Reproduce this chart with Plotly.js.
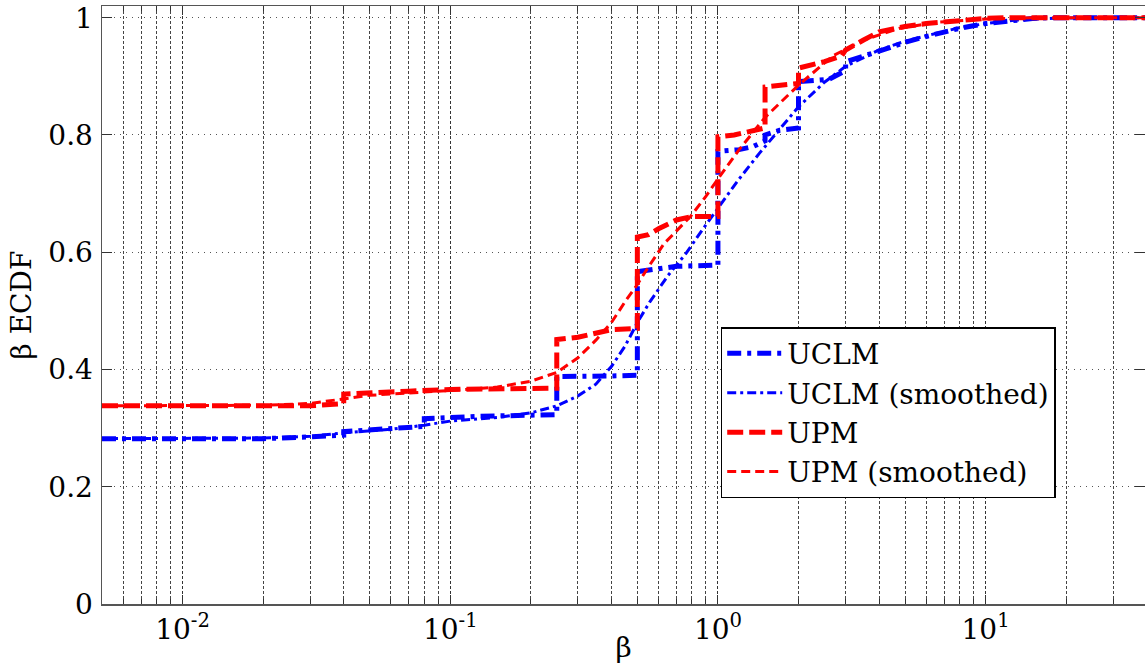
<!DOCTYPE html>
<html>
<head>
<meta charset="utf-8">
<script src="https://cdn.plot.ly/plotly-3.0.1.min.js"></script>
<style>html,body{margin:0;padding:0;background:#fff;overflow:hidden}</style>
</head>
<body>
<div id="chart" style="width:1145px;height:664px"></div>
<script>
// ---- data ----
const uclmBeta = [0.005, 0.02, 0.03, 0.04, 0.04, 0.06, 0.08, 0.08, 0.1, 0.125, 0.25, 0.25, 0.4, 0.5, 0.5, 0.6, 0.7, 1.0, 1.0, 1.2, 1.35, 1.5, 1.5, 1.7, 2.0, 2.0, 2.6, 3.0, 3.0, 4, 5, 6, 8, 10, 13, 16, 40];
const uclmEcdf = [0.282, 0.282, 0.285, 0.288, 0.294, 0.300, 0.303, 0.316, 0.318, 0.320, 0.323, 0.388, 0.389, 0.390, 0.567, 0.571, 0.576, 0.578, 0.772, 0.775, 0.780, 0.790, 0.800, 0.808, 0.812, 0.891, 0.895, 0.910, 0.925, 0.943, 0.958, 0.968, 0.982, 0.990, 0.996, 1.0, 1.0];

const uclmSmBeta = [0.005, 0.02, 0.03, 0.04, 0.06, 0.08, 0.1, 0.15, 0.2, 0.25, 0.3, 0.35, 0.4, 0.45, 0.5, 0.556, 0.65, 0.76, 0.88, 1.0, 1.2, 1.43, 1.7, 2.0, 2.5, 3.0, 4.0, 5.0, 6.5, 8, 10, 13, 18, 25, 40];
const uclmSmEcdf = [0.282, 0.283, 0.286, 0.292, 0.298, 0.305, 0.312, 0.318, 0.326, 0.338, 0.355, 0.375, 0.405, 0.440, 0.480, 0.515, 0.560, 0.598, 0.640, 0.675, 0.725, 0.769, 0.810, 0.848, 0.890, 0.917, 0.945, 0.960, 0.973, 0.983, 0.990, 0.996, 0.999, 1.0, 1.0];

const upmBeta = [0.005, 0.03, 0.04, 0.04, 0.07, 0.1, 0.25, 0.25, 0.3, 0.35, 0.4, 0.5, 0.5, 0.55, 0.6, 0.7, 0.8, 1.0, 1.0, 1.15, 1.3, 1.5, 1.5, 1.8, 2.0, 2.0, 2.5, 2.9, 3.0, 3.5, 4, 5, 6, 8, 10, 12, 40];
const upmEcdf = [0.338, 0.338, 0.342, 0.358, 0.363, 0.366, 0.368, 0.451, 0.455, 0.463, 0.468, 0.470, 0.626, 0.630, 0.640, 0.655, 0.661, 0.661, 0.797, 0.800, 0.805, 0.812, 0.882, 0.885, 0.888, 0.914, 0.925, 0.935, 0.945, 0.962, 0.976, 0.985, 0.990, 0.995, 0.999, 1.0, 1.0];

const upmSmBeta = [0.005, 0.02, 0.03, 0.04, 0.05, 0.07, 0.1, 0.15, 0.2, 0.25, 0.3, 0.35, 0.4, 0.455, 0.5, 0.55, 0.63, 0.79, 0.9, 1.0, 1.2, 1.5, 2.0, 2.69, 3.5, 4.77, 6.5, 10, 15, 40];
const upmSmEcdf = [0.338, 0.339, 0.342, 0.350, 0.356, 0.360, 0.364, 0.370, 0.380, 0.395, 0.420, 0.450, 0.480, 0.519, 0.545, 0.575, 0.615, 0.661, 0.695, 0.725, 0.775, 0.830, 0.885, 0.935, 0.962, 0.982, 0.992, 0.998, 1.0, 1.0];

const seriesNames = ["UCLM", "UCLM (smoothed)", "UPM", "UPM (smoothed)"];
const xTickVals = [0.01, 0.1, 1, 10];
const xTickText = ["10<sup>-2</sup>", "10<sup>-1</sup>", "10<sup>0</sup>", "10<sup>1</sup>"];
const yTickVals = [0, 0.2, 0.4, 0.6, 0.8, 1];
const yTickText = ["0", "0.2", "0.4", "0.6", "0.8", "1"];

// minor log grid (2..9 of every decade)
const minorVals = [];
for (let d = -3; d <= 1; d++) for (let k = 2; k <= 9; k++) minorVals.push(k * Math.pow(10, d));

const FONT = "DejaVu Serif";
const BLUE = "#0000ff", RED = "#ff0000";

const traces = [
  {x: uclmBeta, y: uclmEcdf, name: seriesNames[0], mode: "lines",
   line: {color: BLUE, width: 5, dash: "14px,6px,4px,6px"}},
  {x: uclmSmBeta, y: uclmSmEcdf, name: seriesNames[1], mode: "lines",
   line: {color: BLUE, width: 3, dash: "9px,4px,3px,4px"}},
  {x: upmBeta, y: upmEcdf, name: seriesNames[2], mode: "lines",
   line: {color: RED, width: 5, dash: "16px,6px"}},
  {x: upmSmBeta, y: upmSmEcdf, name: seriesNames[3], mode: "lines",
   line: {color: RED, width: 3, dash: "9px,5px"}}
];

const layout = {
  width: 1145, height: 664,
  margin: {l: 102, r: 0, t: 6, b: 60},
  paper_bgcolor: "#fff", plot_bgcolor: "#fff",
  font: {family: FONT, size: 28, color: "#000"},
  showlegend: true,
  legend: {
    x: 0.5932, y: 0.463, xanchor: "left", yanchor: "top",
    bgcolor: "#fff", bordercolor: "#000", borderwidth: 1.5,
    font: {family: FONT, size: 28, color: "#000"},
    itemwidth: 55, tracegroupgap: 0
  },
  xaxis: {
    type: "log",
    range: [Math.log10(0.005), Math.log10(39.4)],
    tickmode: "array", tickvals: xTickVals, ticktext: xTickText,
    ticks: "inside", ticklen: 9, tickcolor: "#333", tickwidth: 1,
    showline: true, linecolor: "#555", linewidth: 1.5, mirror: "allticks",
    showgrid: true, gridcolor: "#333", gridwidth: 1, griddash: "3px,2px",
    minor: {tickmode: "array", tickvals: minorVals, ticks: "inside", ticklen: 5,
            tickcolor: "#333", showgrid: true, gridcolor: "#444", gridwidth: 1, griddash: "3px,2px"},
    zeroline: false,
    tickfont: {family: FONT, size: 28, color: "#000"},
    title: {text: "β", font: {family: FONT, size: 28, color: "#000"}, standoff: 4}
  },
  yaxis: {
    range: [0, 1.02],
    tickmode: "array", tickvals: yTickVals, ticktext: yTickText,
    ticks: "inside", ticklen: 10, tickcolor: "#333", tickwidth: 1,
    showline: true, linecolor: "#555", linewidth: 1.5, mirror: "allticks",
    showgrid: true, gridcolor: "#555", gridwidth: 1, griddash: "1px,5px",
    zeroline: false,
    ticklabelstandoff: 2,
    tickfont: {family: FONT, size: 28, color: "#000"},
    title: {text: "β ECDF", font: {family: FONT, size: 28, color: "#000"}, standoff: 8}
  }
};

Plotly.newPlot("chart", traces, layout, {displayModeBar: false, staticPlot: true});
</script>
</body>
</html>
